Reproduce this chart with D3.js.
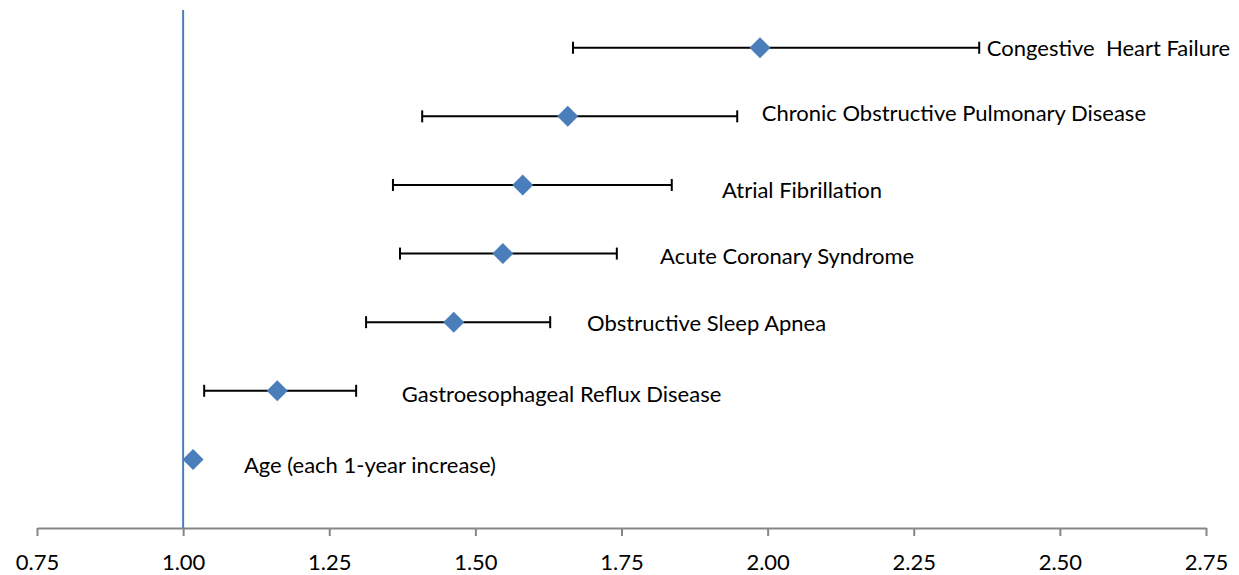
<!DOCTYPE html>
<html>
<head>
<meta charset="utf-8">
<script src="https://cdn.jsdelivr.net/npm/d3@7"></script>
<style>
	body { margin: 0; background: #fff; }
	text { font-family: Lato, "Open Sans", sans-serif; }
</style>
</head>
<body>
<div id="chart"></div>
<script>
// 数据
const conditions = ["Congestive  Heart Failure", "Chronic Obstructive Pulmonary Disease", "Atrial Fibrillation",
	"Acute Coronary Syndrome", "Obstructive Sleep Apnea", "Gastroesophageal Reflux Disease", "Age (each 1-year increase)"]
const rowPos = [7, 6, 5, 4, 3, 2, 1]
const ratio = [1.987, 1.658, 1.581, 1.547, 1.463, 1.161, 1.017]
const lower = [1.667, 1.409, 1.359, 1.371, 1.313, 1.036, null]
const upper = [2.362, 1.948, 1.836, 1.742, 1.628, 1.296, null]
// label anchor (data units)
const labelX = [2.375, 1.990, 1.922, 1.816, 1.691, 1.374, 1.104]
const labelY = [7.0, 6.05, 4.93, 3.97, 2.99, 1.95, 0.92]
const xTicks = [0.75, 1.00, 1.25, 1.50, 1.75, 2.00, 2.25, 2.50, 2.75]
const refLine = 1.0

drawForest()

function drawForest() {
	const width = 1239
	const height = 575

	const svg = d3.select('#chart')
		.append("svg")
		.attr("width", width)
		.attr("height", height)

	const x = d3.scaleLinear()
		.domain([0.75, 2.75])
		.range([37, 1206])

	const y = d3.scaleLinear()
		.domain([0, 7.55])
		.range([528, 10])

	const data = conditions.map((c, i) => ({
		name: c, pos: rowPos[i], v: ratio[i], lo: lower[i], hi: upper[i], lx: labelX[i], ly: labelY[i]
	}))

	// x axis
	const axis = svg.append("g")
		.attr("transform", `translate(0,${y(0)})`)
		.call(d3.axisBottom(x)
			.tickValues(xTicks)
			.tickSize(8)
			.tickSizeOuter(0)
			.tickPadding(18)
			.tickFormat(d3.format(".2f")))
	axis.select(".domain").attr("stroke", "#868686").attr("stroke-width", 2)
	axis.selectAll(".tick line").attr("stroke", "#868686").attr("stroke-width", 2)
	axis.selectAll(".tick text")
		.attr("fill", "#000")
		.style("font-size", "22px")
		.style("font-family", "Lato, 'Open Sans', sans-serif")

	// reference line at 1
	svg.append("line")
		.attr("x1", x(refLine)).attr("x2", x(refLine))
		.attr("y1", y(7.55)).attr("y2", y(0))
		.attr("stroke", "#4A7EBB")
		.attr("stroke-width", 2)

	// error bars
	const withCi = data.filter(d => d.lo != null)
	const eb = svg.append("g").selectAll("g")
		.data(withCi)
		.join("g")
		.attr("stroke", "#000")
		.attr("stroke-width", 2)
	eb.append("line")
		.attr("x1", d => x(d.lo)).attr("x2", d => x(d.hi))
		.attr("y1", d => y(d.pos)).attr("y2", d => y(d.pos))
	eb.append("line")
		.attr("x1", d => x(d.lo)).attr("x2", d => x(d.lo))
		.attr("y1", d => y(d.pos) - 6).attr("y2", d => y(d.pos) + 6)
	eb.append("line")
		.attr("x1", d => x(d.hi)).attr("x2", d => x(d.hi))
		.attr("y1", d => y(d.pos) - 6).attr("y2", d => y(d.pos) + 6)

	// diamonds
	const r = 10.5
	svg.append("g").selectAll("path")
		.data(data)
		.join("path")
		.attr("d", d => {
			const cx = x(d.v), cy = y(d.pos)
			return `M${cx},${cy - r}L${cx + r},${cy}L${cx},${cy + r}L${cx - r},${cy}Z`
		})
		.attr("fill", "#4A7EBB")

	// labels
	svg.append("g").selectAll("text")
		.data(data)
		.join("text")
		.attr("x", d => x(d.lx))
		.attr("y", d => y(d.ly))
		.attr("dy", "0.36em")
		.style("font-size", "22px")
		.style("white-space", "pre")
		.attr("fill", "#000")
		.text(d => d.name)
}
</script>
</body>
</html>
